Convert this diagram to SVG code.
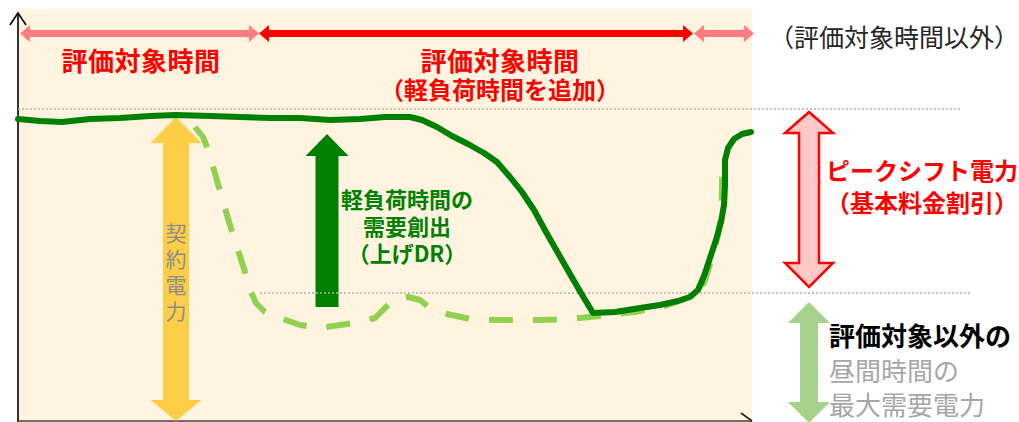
<svg xmlns="http://www.w3.org/2000/svg" width="1019" height="422" viewBox="0 0 1019 422">
<defs>
<style>
.jp{font-family:"Noto Sans CJK JP","Noto Sans CJK SC",sans-serif;}
.b{font-weight:bold;}
.dot{stroke:#AFAFAF;stroke-width:1.6;stroke-dasharray:2 2;fill:none;}
.axis{stroke:#000;stroke-width:1.6;fill:none;}
</style>
</defs>
<rect width="1019" height="422" fill="#FFFFFF"/>
<rect id="plot-bg" x="18" y="9" width="734" height="413" fill="#FEF4E0"/>

<g id="axes">
<line class="axis" x1="18" y1="13" x2="18" y2="422"/>
<polyline class="axis" points="10,25 18,13 26,25"/>
<line x1="18" y1="421" x2="752" y2="421" stroke="#444" stroke-width="1.6"/>
<polyline points="741,413 752,421" stroke="#222" stroke-width="1.6" fill="none"/>
</g>

<g id="period-arrows">
<polygon id="arrow-left" fill="#FF7C80" points="20,33.5 30,25 30,30 249,30 249,25 259,33.5 249,42 249,37 30,37 30,42"/>
<polygon id="arrow-mid" fill="#FF0000" points="259,33.5 269,25 269,30 683,30 683,25 693,33.5 683,42 683,37 269,37 269,42"/>
<polygon id="arrow-right" fill="#FF7C80" points="694,33.5 704,25 704,30 744,30 744,25 754,33.5 744,42 744,37 704,37 704,42"/>
</g>

<g id="label-eval-left">
<text class="jp b" x="141" y="71" font-size="26" fill="#FF0000" text-anchor="middle" letter-spacing="0.5">評価対象時間</text>
</g>
<g id="label-eval-mid">
<text class="jp b" x="500" y="71" font-size="26" fill="#FF0000" text-anchor="middle" letter-spacing="0.5">評価対象時間</text>
<text class="jp b" x="500" y="99" font-size="24" fill="#FF0000" text-anchor="middle">（軽負荷時間を追加）</text>
</g>
<g id="label-eval-outside">
<text class="jp" x="894" y="47" font-size="25" fill="#262626" text-anchor="middle">（評価対象時間以外）</text>
</g>

<g id="contract-power">
<polygon fill="#FFCE47" points="176,117 201.5,143 189,143 189,400 201.5,400 176,421 150.5,400 163,400 163,143 150.5,143"/>
<text class="jp" font-size="21" fill="#8C8C8C" text-anchor="middle">
<tspan x="176" y="241">契</tspan><tspan x="176" y="267">約</tspan><tspan x="176" y="293">電</tspan><tspan x="176" y="319">力</tspan>
</text>
</g>

<g id="upward-dr">
<polygon fill="#008000" points="327,134 348.5,156 338.5,156 338.5,307 315.5,307 315.5,156 305.5,156"/>
<text class="jp b" font-size="22" fill="#008000" text-anchor="middle">
<tspan x="407" y="208">軽負荷時間の</tspan><tspan x="407" y="235">需要創出</tspan><tspan x="407" y="262">（上げDR）</tspan>
</text>
</g>

<g id="guides">
<line class="dot" x1="18" y1="109" x2="962" y2="109"/>
<line class="dot" x1="260" y1="293" x2="970" y2="293"/>
</g>

<g id="connectors">
<polyline id="demand-other" fill="none" stroke="#92D050" stroke-width="6" stroke-dasharray="24 20" stroke-linejoin="round" points="195,127 203,137 209,152 214,170 222,198 230,225 238,250 245,272 250,290 256,303 265,312 280,318 300,325 320,328 340,325 360,322 375,318 385,308 395,299 408,297 420,300 430,308 447,314 470,319 500,320 540,320 570,319 600,316 635,312 665,306 690,297 704,283 712,258 718,235 721,215 722,190 722,168"/>
<polyline id="demand-main" fill="none" stroke="#008000" stroke-width="6" stroke-linejoin="round" stroke-linecap="round" points="18,119 40,121 62,122 90,119 120,118 150,116 176,115 210,116 240,117 270,118 300,118 330,120 360,119 385,117 410,117 422,120 437,127 452,136 468,144 484,153 497,162 510,177 522,192 534,210 546,232 558,253 570,274 581,293 593,313 615,312 640,308 660,305 678,301 690,297 698,290 704,276 710,258 716,240 721,222 724,205 725,185 725,160 728,148 734,139 742,134 751,132"/>
</g>

<g id="peak-shift">
<polygon fill="#FFC9C9" stroke="#FF0000" stroke-width="2.5" stroke-linejoin="miter" points="809,112 833,133 819,133 819,263 833,263 809,287 785,263 799,263 799,133 785,133"/>
<text class="jp b" font-size="24" fill="#FF0000" text-anchor="middle">
<tspan x="922" y="180">ピークシフト電力</tspan><tspan x="922" y="212">（基本料金割引）</tspan>
</text>
</g>

<g id="other-peak">
<polygon fill="#A9D18E" points="809,302 830,323 818,323 818,402 830,402 809,423 788,402 800,402 800,323 788,323"/>
<text class="jp b" x="829" y="346" font-size="26" fill="#000000">評価対象以外の</text>
<text class="jp" x="829" y="381" font-size="26" fill="#A6A6A6">昼間時間の</text>
<text class="jp" x="829" y="415" font-size="26" fill="#A6A6A6">最大需要電力</text>
</g>
</svg>
